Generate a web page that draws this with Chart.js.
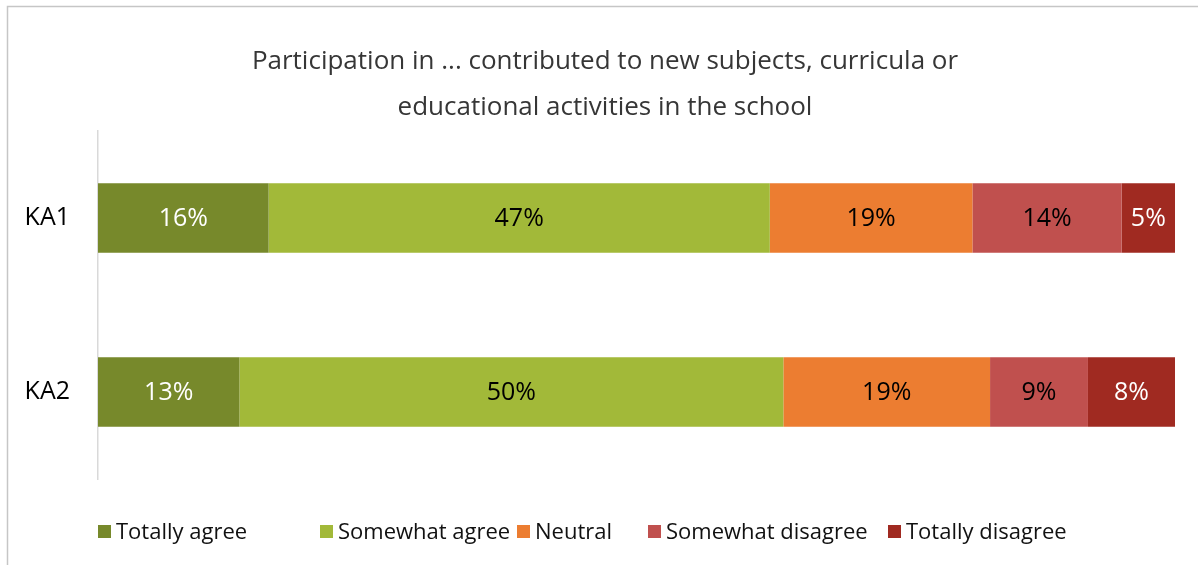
<!DOCTYPE html>
<html>
<head>
<meta charset="utf-8">
<script src="https://cdn.jsdelivr.net/npm/chart.js@4.4.1/dist/chart.umd.min.js"></script>
<style>
  html, body { margin: 0; padding: 0; background: #ffffff; }
  #wrap { position: relative; width: 1198px; height: 565px; }
  canvas { display: block; }
</style>
</head>
<body>
<div id="wrap"><canvas id="chart" width="1198" height="565"></canvas></div>
<script>
// Survey groups and answer categories
const groups = ['KA1', 'KA2'];
const answers = ['Totally agree', 'Somewhat agree', 'Neutral', 'Somewhat disagree', 'Totally disagree'];

// Share of respondents per answer (percent, as reported)
const totallyAgree     = [16, 13];
const somewhatAgree    = [47, 50];
const neutral          = [19, 19];
const somewhatDisagree = [14, 9];
const totallyDisagree  = [5, 8];

const titleLines = [
  'Participation in ... contributed to new subjects, curricula or',
  'educational activities in the school'
];

const seriesValues = [totallyAgree, somewhatAgree, neutral, somewhatDisagree, totallyDisagree];
const fills = ['#77892b', '#a2b939', '#ec7d31', '#c0504e', '#a02a21'];
const labelInk = ['#ffffff', '#000000', '#000000', '#000000', '#ffffff'];

// Rounded shares don't always add to exactly 100, so each row is scaled to a full bar
const rowTotals = groups.map((_, i) => seriesValues.reduce((s, arr) => s + arr[i], 0));

const FONT = "'Open Sans', 'Liberation Sans', sans-serif";

const datasets = answers.map((name, k) => ({
  label: name,
  data: seriesValues[k].map((v, i) => v / rowTotals[i] * 100),
  raw: seriesValues[k],
  backgroundColor: fills[k],
  borderWidth: 0,
  categoryPercentage: 0.8,
  barPercentage: 0.5
}));

// Frame, title, in-bar value labels and legend
const decorations = {
  id: 'decorations',
  beforeDraw(chart) {
    const ctx = chart.ctx;
    ctx.save();
    ctx.fillStyle = '#ffffff';
    ctx.fillRect(0, 0, chart.width, chart.height);
    ctx.strokeStyle = '#c6c6c6';
    ctx.lineWidth = 1.5;
    ctx.beginPath();
    ctx.moveTo(7.5, chart.height);
    ctx.lineTo(7.5, 6.5);
    ctx.lineTo(chart.width, 6.5);
    ctx.stroke();

    ctx.fillStyle = '#363636';
    ctx.font = '26px ' + FONT;
    ctx.textAlign = 'center';
    ctx.textBaseline = 'middle';
    titleLines.forEach((t, i) => ctx.fillText(t, 605, 62 + i * 46));
    ctx.restore();
  },
  afterDatasetsDraw(chart) {
    const ctx = chart.ctx;
    ctx.save();
    ctx.font = '25px ' + FONT;
    ctx.textAlign = 'center';
    ctx.textBaseline = 'middle';
    chart.data.datasets.forEach((ds, k) => {
      chart.getDatasetMeta(k).data.forEach((bar, i) => {
        const cx = (bar.x + bar.base) / 2;
        ctx.fillStyle = labelInk[k];
        ctx.fillText(ds.raw[i] + '%', cx, bar.y + 1);
      });
    });

    // legend row
    const slots = [98, 320, 517, 648, 888];
    const y = 532;
    ctx.font = '22px ' + FONT;
    ctx.textAlign = 'left';
    answers.forEach((name, k) => {
      ctx.fillStyle = fills[k];
      ctx.fillRect(slots[k], y - 7, 13, 13);
      ctx.fillStyle = '#111111';
      ctx.fillText(name, slots[k] + 18, y + 0.5);
    });
    ctx.restore();
  }
};

new Chart(document.getElementById('chart'), {
  type: 'bar',
  data: { labels: groups, datasets },
  options: {
    indexAxis: 'y',
    responsive: false,
    animation: false,
    layout: { padding: { left: 0, right: 23, top: 131, bottom: 86 } },
    scales: {
      x: { stacked: true, min: 0, max: 100, display: false },
      y: {
        stacked: true,
        grid: { display: false, drawTicks: false },
        border: { display: true, color: '#d9d9d9', width: 1.5 },
        ticks: { color: '#000000', font: { size: 25, family: FONT }, padding: 28 },
        afterFit(scale) { scale.width = 98; }
      }
    },
    plugins: {
      legend: { display: false },
      title: { display: false },
      tooltip: { enabled: false }
    }
  },
  plugins: [decorations]
});
</script>
</body>
</html>
